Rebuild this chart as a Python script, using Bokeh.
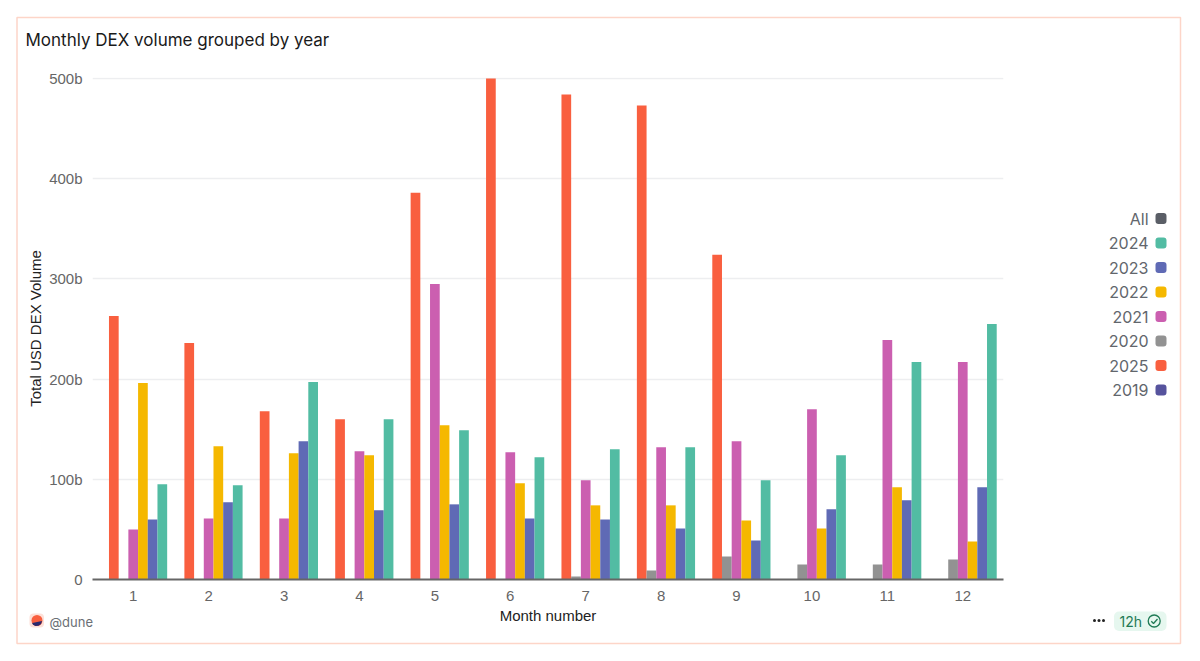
from bokeh.plotting import figure
from bokeh.layouts import column
from bokeh.models import ColumnDataSource, FixedTicker, Range1d
from bokeh.core.properties import value
from bokeh.transform import dodge
from bokeh.embed import file_html
from bokeh.resources import INLINE
import math

nan = math.nan
months = [1, 2, 3, 4, 5, 6, 7, 8, 9, 10, 11, 12]
y2025 = [263, 236, 168, 160, 386, 500, 484, 473, 324, nan, nan, nan]
y2020 = [nan, nan, nan, nan, nan, nan, 3, 9, 23, 15, 15, 20]
y2021 = [50, 61, 61, 128, 295, 127, 99, 132, 138, 170, 239, 217]
y2022 = [196, 133, 126, 124, 154, 96, 74, 74, 59, 51, 92, 38]
y2023 = [60, 77, 138, 69, 75, 61, 60, 51, 39, 70, 79, 92]
y2024 = [95, 94, 197, 160, 149, 122, 130, 132, 99, 124, 217, 255]
y_ticks = [0, 100, 200, 300, 400, 500]
y_labels = ["0", "100b", "200b", "300b", "400b", "500b"]
legend_names = ["All", "2024", "2023", "2022", "2021", "2020", "2025", "2019"]
legend_colors = ["#5A5E66", "#52BCA3", "#5F6AB5", "#F5B800", "#CB5FB0", "#929292", "#F95F3F", "#56539D"]
series = [("2025", y2025, -2, "#F95F3F"), ("2020", y2020, -1, "#929292"), ("2021", y2021, 0, "#CB5FB0"),
          ("2022", y2022, 1, "#F5B800"), ("2023", y2023, 2, "#5F6AB5"), ("2024", y2024, 3, "#52BCA3")]

W, H = 1190, 655
FL, FR, FT, FB = 92, 1003, 77, 579   # frame edges, page pixels
X0, X1 = 0.46, 12.54
p = figure(width=W, height=H, output_backend="svg", toolbar_location=None,
           x_range=(X0, X1), y_range=(0, 501),
           min_border_left=FL, min_border_right=W - FR, min_border_top=FT, min_border_bottom=H - FB)
p.frame_align = False
p.outline_line_color = None
p.xgrid.visible = False
p.ygrid.grid_line_color = "#EDEEF0"
p.ygrid.grid_line_width = 1.5
p.ygrid.ticker = FixedTicker(ticks=y_ticks)

p.yaxis.ticker = FixedTicker(ticks=y_ticks)
p.yaxis.major_label_overrides = dict(zip(y_ticks, y_labels))
p.yaxis.axis_line_color = None
p.yaxis.major_tick_line_color = None
p.yaxis.minor_tick_line_color = None
p.yaxis.major_label_text_color = "#666666"
p.yaxis.major_label_text_font = "Liberation Sans"
p.yaxis.major_label_text_font_size = "15px"
p.yaxis.major_label_standoff = 4
p.yaxis.axis_label = "Total USD DEX Volume"
p.yaxis.axis_label_text_font = "Liberation Sans"
p.yaxis.axis_label_text_font_size = "15px"
p.yaxis.axis_label_text_font_style = "normal"
p.yaxis.axis_label_text_color = "#222222"
p.yaxis.axis_label_standoff = 2

p.xaxis.ticker = FixedTicker(ticks=months)
p.xaxis.axis_line_color = "#666666"
p.xaxis.axis_line_width = 2
p.xaxis.major_tick_line_color = None
p.xaxis.minor_tick_line_color = None
p.xaxis.major_label_text_color = "#666666"
p.xaxis.major_label_text_font = "Liberation Sans"
p.xaxis.major_label_text_font_size = "15px"
p.xaxis.major_label_standoff = 5
p.xaxis.axis_label = "Month number"
p.xaxis.axis_label_text_font = "Liberation Sans"
p.xaxis.axis_label_text_font_size = "15px"
p.xaxis.axis_label_text_font_style = "normal"
p.xaxis.axis_label_text_color = "#222222"
p.xaxis.axis_label_standoff = 3

BAR = 0.1286
src = {"month": months}
for name, vals, _, _ in series:
    src["y" + name] = vals
source = ColumnDataSource(src)
for name, _, slot, color in series:
    p.vbar(x=dodge("month", slot * BAR, range=p.x_range), top="y" + name, width=BAR, bottom=0,
           source=source, fill_color=color, line_color=None)

# Transparent figure over the chart: its frame is the whole canvas, its data units are page pixels.
q = figure(margin=(-H, 0, 0, 0), width=W, height=H, output_backend="svg", toolbar_location=None,
           x_range=Range1d(0, W), y_range=Range1d(H, 0), x_axis_location=None, y_axis_location=None,
           min_border=0, background_fill_color=None, border_fill_color=None, outline_line_color=None)
q.frame_align = False
q.grid.visible = False


def label(x, y, text, size, color, font="Inter", align="left"):
    q.text(x=[x], y=[y], text=[text], text_font=value(font), text_font_size=f"{size}px",
           text_color=color, text_align=align, text_baseline="middle")


def box(l, t, r, b, fill=None, line=None, radius=0, lw=1):
    q.quad(left=[l], right=[r], top=[t], bottom=[b], fill_color=fill, line_color=line,
           line_width=lw, border_radius=radius)


box(16.5, 17, 1180, 643, line="#FDD5C8", lw=1.5)
label(25, 39, "Monthly DEX volume grouped by year", 17, "#1A1A1A")

for i, (nm, col) in enumerate(zip(legend_names, legend_colors)):
    yy = 218 + i * 24.5
    label(1148, yy, nm, 16, "#62666C", align="right")
    box(1155, yy - 5.5, 1166, yy + 5.5, fill=col, radius=3)

box(29, 613, 43.5, 627, fill="#FDE0D8", radius=4)
q.scatter(x=[36.5], y=[620], size=11, marker="circle", fill_color="#F95F3F", line_color=None)
q.patch(x=[31.6, 41.6, 40.5, 38, 35, 32.5], y=[622.6, 620.5, 623.5, 625.2, 625.4, 624.2],
        fill_color="#2A2A6E", line_color=None)
label(49, 621, "@dune", 13, "#6B6F76")

q.scatter(x=[1094, 1098.5, 1103], y=[620, 620, 620], size=3, marker="circle", fill_color="#222222", line_color=None)
box(1113.5, 611, 1166, 630.5, fill="#E6F7EF", radius=5)
label(1119, 621, "12h", 14, "#1F7A55")
q.scatter(x=[1153.7], y=[620.5], size=12, marker="circle", fill_color=None, line_color="#1F7A55", line_width=1.3)
q.line(x=[1150.8, 1153, 1157], y=[620.8, 623, 618.5], line_color="#1F7A55", line_width=1.3)

page = column(p, q)
open("out.html", "w").write(file_html(page, INLINE))
